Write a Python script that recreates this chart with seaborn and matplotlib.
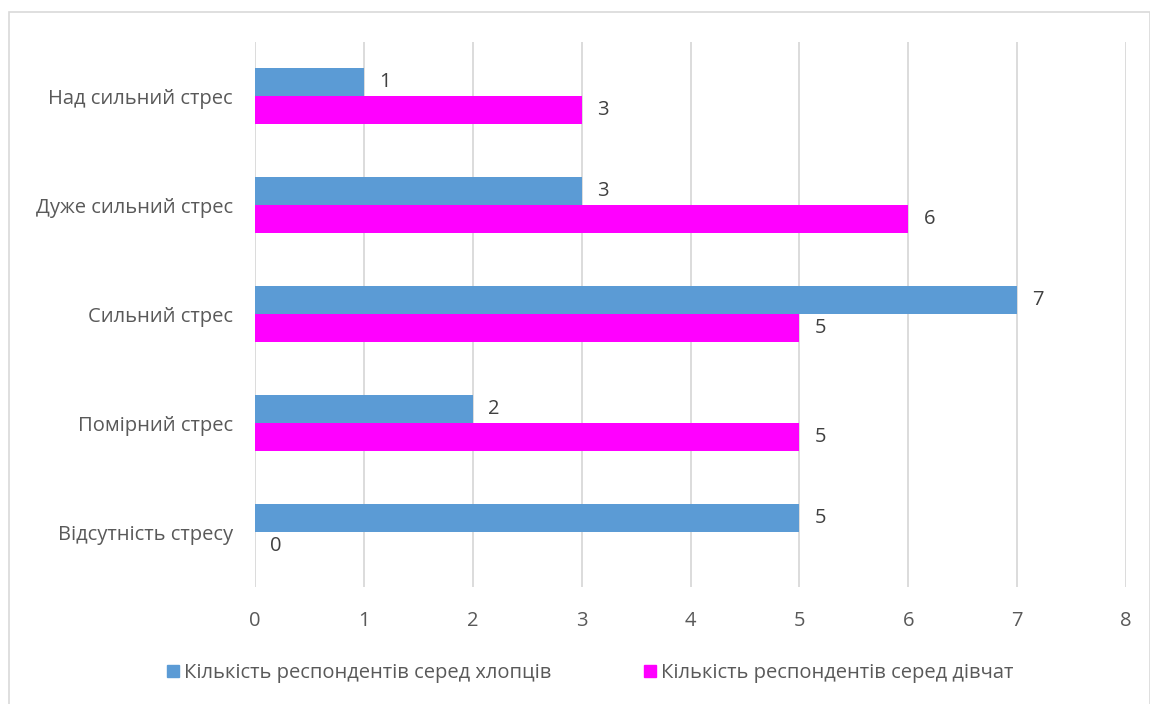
import matplotlib
matplotlib.use("Agg")
import matplotlib.pyplot as plt
import matplotlib.patches as mpatches
import seaborn as sns
import pandas as pd

categories = ["Над сильний стрес", "Дуже сильний стрес", "Сильний стрес", "Помірний стрес", "Відсутність стресу"]
series_names = ["Кількість респондентів серед хлопців", "Кількість респондентів серед дівчат"]
boys = [1, 3, 7, 2, 5]
girls = [3, 6, 5, 5, 0]
x_ticks = [0, 1, 2, 3, 4, 5, 6, 7, 8]

colors = ["#5B9BD5", "#FF00FF"]

df = pd.DataFrame({
    "cat": categories * 2,
    "val": boys + girls,
    "series": [series_names[0]] * len(categories) + [series_names[1]] * len(categories),
})

sns.set_theme(style="white")
plt.rcParams["font.family"] = ["Open Sans", "DejaVu Sans"]

FS = 14.5

fig = plt.figure(figsize=(11.5, 7.04), dpi=100)
ax = fig.add_axes([255/1150, 1 - 587/704, (1126-255)/1150, (587-41.5)/704])

sns.barplot(data=df, y="cat", x="val", hue="series", order=categories,
            hue_order=series_names, palette=colors, orient="h", width=0.515,
            saturation=1, linewidth=0, ax=ax, legend=False)

ax.set_xlim(0, 8)
ax.set_xticks(x_ticks)
ax.set_xticklabels([str(t) for t in x_ticks], fontsize=FS, color="#595959")
ax.tick_params(axis="x", length=0, pad=17.5)
ax.tick_params(axis="y", length=0, pad=16, labelsize=FS, labelcolor="#595959")
ax.set_xlabel("")
ax.set_ylabel("")
for s in ax.spines.values():
    s.set_visible(False)
ax.grid(axis="x", color="#d9d9d9", linewidth=1.3)
ax.set_axisbelow(True)

for container in ax.containers:
    ax.bar_label(container, fmt="%g", padding=11, fontsize=FS, color="#404040")

handles = [mpatches.Patch(color=c, label=n) for c, n in zip(colors, series_names)]
fig.legend(handles=handles, loc="center", bbox_to_anchor=(0.513, 1 - 673/704), ncol=2,
           frameon=False, fontsize=FS, handlelength=0.6, handleheight=0.6,
           handletextpad=0.25, columnspacing=4.6, labelcolor="#595959")

fig.patches.append(mpatches.Rectangle((9/1150, -0.01), (1150-9)/1150, 1 - 12/704 + 0.01,
                                      transform=fig.transFigure, fill=False,
                                      edgecolor="#d9d9d9", linewidth=1.2))

fig.savefig("out.png", dpi=100, facecolor="white")
